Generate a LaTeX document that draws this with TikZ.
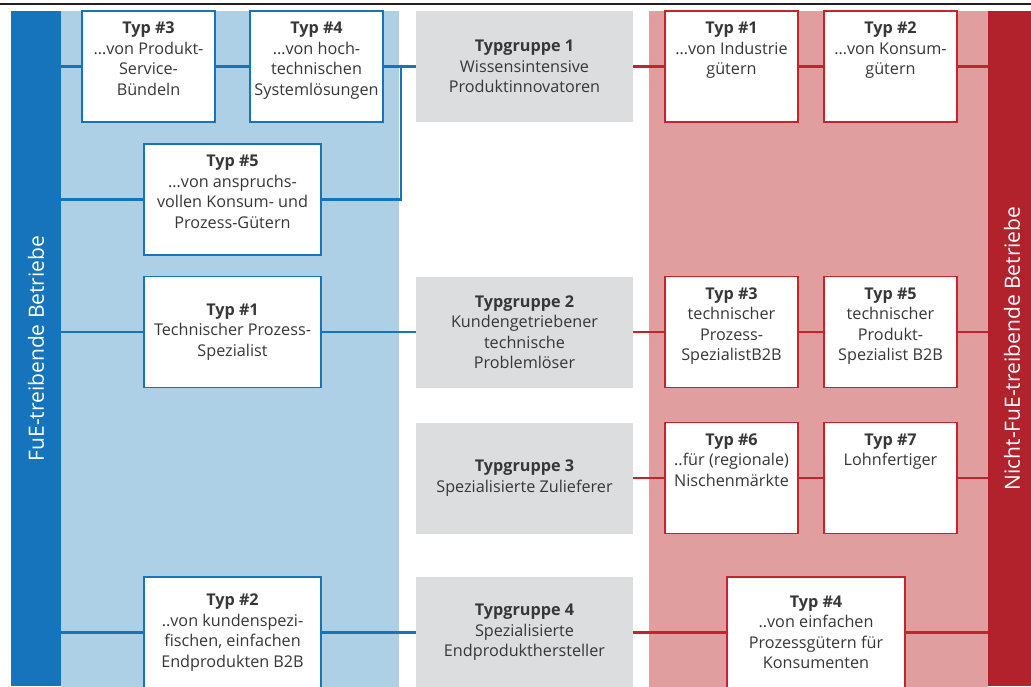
\documentclass[tikz,border=0pt]{standalone}
\usepackage{fontspec}
\setmainfont{Open Sans}
\usetikzlibrary{positioning}

\definecolor{fueblue}{RGB}{21,116,187}
\definecolor{fuelight}{RGB}{174,208,230}
\definecolor{nfuered}{RGB}{178,34,45}
\definecolor{nfuelight}{RGB}{224,158,158}
\definecolor{boxred}{RGB}{200,35,45}
\definecolor{grayfill}{RGB}{220,221,222}
\definecolor{textgray}{RGB}{55,55,55}
\definecolor{topline}{RGB}{35,31,32}

\newcommand{\toptxt}[2][130pt]{\parbox[c][89pt][t]{#1}{\centering #2}}

\begin{document}
\begin{tikzpicture}[x=1pt, y=-1pt]
\tikzstyle{typ}=[fill=white, line width=1.6pt, inner sep=0pt, minimum width=133pt, minimum height=111pt, align=center, text=textgray, font=\fontsize{16.2}{20.5}\selectfont]
\tikzstyle{bluetyp}=[typ, draw=fueblue]
\tikzstyle{redtyp}=[typ, draw=boxred]
\tikzstyle{gruppe}=[fill=grayfill, inner sep=0pt, minimum width=217pt, minimum height=111pt, align=center, text=textgray, font=\fontsize{16.2}{20.5}\selectfont]
\tikzstyle{bar}=[inner sep=0pt, minimum height=675pt, text=white, font=\fontsize{21}{24}\selectfont]
\tikzstyle{blueline}=[draw=fueblue, line width=2.6pt]
\tikzstyle{redline}=[draw=boxred, line width=2.6pt]

\useasboundingbox (0,0) rectangle (1031,686);
\clip (0,0) rectangle (1031,686);

\draw[topline, line width=2.5pt] (0,4) -- (1031,4);
\fill[fuelight] (61,11) rectangle (399,700);
\fill[nfuelight] (649,11) rectangle (988,700);

\draw (36,348.5) node[bar, fill=fueblue, minimum width=50pt] (fuebar) {\rotatebox{90}{FuE-treibende Betriebe}};
\draw (1012,348.5) node[bar, fill=nfuered, minimum width=48pt] (nfuebar) {\rotatebox{90}{Nicht-FuE-treibende Betriebe}};

\draw (148.5,66.5) node[bluetyp] (b3) {\toptxt{\textbf{Typ \#3}\\…von Produkt-\\Service-\\Bündeln}};
\draw (316.5,66.5) node[bluetyp] (b4) {\toptxt{\textbf{Typ \#4}\\…von hoch-\\technischen\\Systemlösungen}};
\draw (232.5,199.5) node[bluetyp, minimum width=177pt] (b5) {\toptxt[172pt]{\textbf{Typ \#5}\\…von anspruchs-\\vollen Konsum- und\\Prozess-Gütern}};
\draw (232.5,332) node[bluetyp, minimum width=177pt] (bb1) {\textbf{Typ \#1}\\Technischer Prozess-\\Spezialist};
\draw (232.5,632.5) node[bluetyp, minimum width=177pt] (bb2) {\textbf{Typ \#2}\\..von kundenspezi-\\fischen, einfachen\\Endprodukten B2B};

\draw (524.5,66.5) node[gruppe] (tg1) {\textbf{Typgruppe 1}\\Wissensintensive\\Produktinnovatoren};
\draw (524.5,332) node[gruppe] (tg2) {\textbf{Typgruppe 2}\\Kundengetriebener\\technische\\Problemlöser};
\draw (524.5,478) node[gruppe] (tg3) {\textbf{Typgruppe 3}\\Spezialisierte Zulieferer};
\draw (524.5,632.5) node[gruppe] (tg4) {\textbf{Typgruppe 4}\\Spezialisierte\\Endprodukthersteller};

\draw (731.5,66.5) node[redtyp] (r1) {\toptxt{\textbf{Typ \#1}\\…von Industrie\\gütern}};
\draw (890.5,66.5) node[redtyp] (r2) {\toptxt{\textbf{Typ \#2}\\…von Konsum-\\gütern}};
\draw (731.5,332) node[redtyp] (r3) {\toptxt{\textbf{Typ \#3}\\technischer\\Prozess-\\SpezialistB2B}};
\draw (890.5,332) node[redtyp] (r5) {\toptxt{\textbf{Typ \#5}\\technischer\\Produkt-\\Spezialist B2B}};
\draw (731.5,478) node[redtyp] (r6) {\toptxt{\textbf{Typ \#6}\\..für (regionale)\\Nischenmärkte}};
\draw (890.5,478) node[redtyp] (r7) {\toptxt{\textbf{Typ \#7}\\Lohnfertiger}};
\draw (816,632.5) node[redtyp, minimum width=178pt] (r4) {\textbf{Typ \#4}\\..von einfachen\\Prozessgütern für\\Konsumenten};

\coordinate (knot) at (401,66.5);

\draw[blueline] (b3) edge (b3 -| fuebar.east);
\draw[blueline] (b3) edge (b4);
\draw[blueline] (b4) edge (tg1);
\draw[blueline] (knot) |- (b5);
\draw[blueline] (b5) edge (b5 -| fuebar.east);
\draw[blueline] (bb1) edge (bb1 -| fuebar.east);
\draw[blueline] (bb1) edge (tg2);
\draw[blueline] (bb2) edge (bb2 -| fuebar.east);
\draw[blueline] (bb2) edge (tg4);

\draw[redline] (tg1) edge (r1);
\draw[redline] (r1) edge (r2);
\draw[redline] (r2) edge (r2 -| nfuebar.west);
\draw[redline] (tg2) edge (r3);
\draw[redline] (r3) edge (r5);
\draw[redline] (r5) edge (r5 -| nfuebar.west);
\draw[redline] (tg3) edge (r6);
\draw[redline] (r6) edge (r7);
\draw[redline] (r7) edge (r7 -| nfuebar.west);
\draw[redline] (tg4) edge (r4);
\draw[redline] (r4) edge (r4 -| nfuebar.west);
\end{tikzpicture}
\end{document}
